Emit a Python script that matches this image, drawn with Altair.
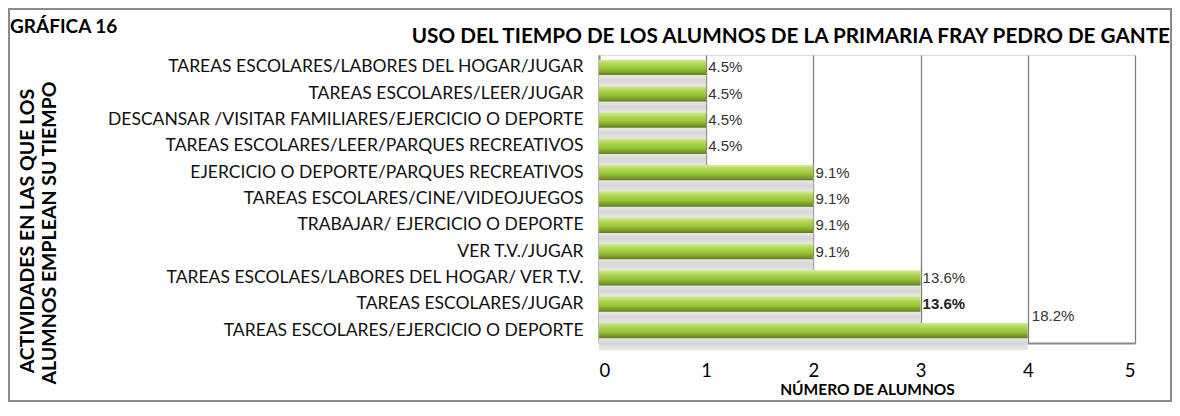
import altair as alt
import pandas as pd

categories = [
    "TAREAS ESCOLARES/LABORES DEL HOGAR/JUGAR",
    "TAREAS ESCOLARES/LEER/JUGAR",
    "DESCANSAR /VISITAR FAMILIARES/EJERCICIO O DEPORTE",
    "TAREAS ESCOLARES/LEER/PARQUES RECREATIVOS",
    "EJERCICIO O DEPORTE/PARQUES RECREATIVOS",
    "TAREAS ESCOLARES/CINE/VIDEOJUEGOS",
    "TRABAJAR/ EJERCICIO O DEPORTE",
    "VER T.V./JUGAR",
    "TAREAS ESCOLAES/LABORES DEL HOGAR/ VER T.V.",
    "TAREAS ESCOLARES/JUGAR",
    "TAREAS ESCOLARES/EJERCICIO O DEPORTE",
]
alumnos = [1, 1, 1, 1, 2, 2, 2, 2, 3, 3, 4]
porcentajes = ["4.5%", "4.5%", "4.5%", "4.5%", "9.1%", "9.1%", "9.1%", "9.1%",
               "13.6%", "13.6%", "18.2%"]
label_style = ["normal"] * 9 + ["bold", "raised"]

df = pd.DataFrame({
    "cat": categories,
    "n": alumnos,
    "pct": porcentajes,
    "style": label_style,
})

FONT = "Lato"
W, H = 536, 288

y_enc = alt.Y("cat:N", sort=categories,
              scale=alt.Scale(paddingInner=0.42, paddingOuter=0.185),
              axis=alt.Axis(title=None, labelFont=FONT, labelFontSize=17.5,
                            labelColor="#111", labelPadding=16, ticks=False,
                            domain=True, domainColor="#8a8a8a", domainWidth=2,
                            labelLimit=700))
x_enc = alt.X("n:Q", scale=alt.Scale(domain=[0, 5], nice=False),
              axis=alt.Axis(values=[0, 1, 2, 3, 4, 5], format="d",
                            title="NÚMERO DE ALUMNOS", titleFont=FONT,
                            titleFontSize=15.5, titleFontWeight="bold",
                            titleColor="#000", titlePadding=3,
                            labelFont=FONT, labelFontSize=18.5,
                            labelColor="#000", labelPadding=18, ticks=False,
                            grid=True, gridColor="#7f7f7f", gridWidth=1.3,
                            domain=True, domainColor="#8a8a8a", domainWidth=2))

base = alt.Chart(df)

shadow = base.mark_bar(
    yOffset=12,
    color=alt.Gradient(gradient="linear", x1=0, x2=0, y1=0, y2=1,
                       stops=[alt.GradientStop(color="#f4f4f4", offset=0),
                              alt.GradientStop(color="#d6d6d6", offset=0.55),
                              alt.GradientStop(color="#e8e8e8", offset=1)]),
).encode(x=x_enc, y=y_enc)

bars = base.mark_bar(
    color=alt.Gradient(gradient="linear", x1=0, x2=0, y1=0, y2=1,
                       stops=[alt.GradientStop(color="#d2eb96", offset=0),
                              alt.GradientStop(color="#b2d858", offset=0.25),
                              alt.GradientStop(color="#98c236", offset=0.6),
                              alt.GradientStop(color="#779a26", offset=0.85),
                              alt.GradientStop(color="#5d7b1b", offset=1)]),
).encode(x=x_enc, y=y_enc)

lab_enc = dict(x="n:Q", y=alt.Y("cat:N", sort=categories), text="pct:N")

labels = base.mark_text(
    align="left", baseline="middle", dx=2, font="Liberation Sans",
    fontSize=15, color="#333",
).encode(**lab_enc).transform_filter("datum.style == 'normal'")

labels_bold = base.mark_text(
    align="left", baseline="middle", dx=2, font="Liberation Sans",
    fontSize=15, fontWeight="bold", color="#222",
).encode(**lab_enc).transform_filter("datum.style == 'bold'")

labels_raised = base.mark_text(
    align="left", baseline="middle", dx=4, dy=-15, font="Liberation Sans",
    fontSize=15, color="#333",
).encode(**lab_enc).transform_filter("datum.style == 'raised'")

one = alt.Chart(pd.DataFrame({"k": [0]}))

title_main = one.mark_text(
    align="right", baseline="middle", font=FONT, fontSize=20.7,
    fontWeight="bold", color="#000",
).encode(x=alt.value(571), y=alt.value(-18),
         text=alt.value("USO DEL TIEMPO DE LOS ALUMNOS DE LA PRIMARIA FRAY PEDRO DE GANTE"))

title_num = one.mark_text(
    align="left", baseline="middle", font=FONT, fontSize=19,
    fontWeight="bold", color="#000",
).encode(x=alt.value(-589), y=alt.value(-28), text=alt.value("GRÁFICA 16"))

ytitle1 = one.mark_text(
    align="center", baseline="middle", angle=270, font=FONT, fontSize=19.5,
    fontWeight="bold", color="#000",
).encode(x=alt.value(-571), y=alt.value(176),
         text=alt.value("ACTIVIDADES EN LAS  QUE LOS"))

ytitle2 = one.mark_text(
    align="center", baseline="middle", angle=270, font=FONT, fontSize=19.5,
    fontWeight="bold", color="#000",
).encode(x=alt.value(-549), y=alt.value(178),
         text=alt.value("ALUMNOS EMPLEAN  SU  TIEMPO"))

border = one.mark_rect(filled=False, stroke="#8a8a8a", strokeWidth=2).encode(
    x=alt.value(-590), x2=alt.value(572), y=alt.value(-46), y2=alt.value(346))

chart = alt.layer(
    border, shadow, bars, labels, labels_bold, labels_raised,
    title_main, title_num, ytitle1, ytitle2,
).properties(
    width=W, height=H,
    autosize=alt.AutoSizeParams(type="none"),
    padding={"left": 591, "top": 47, "right": 37, "bottom": 59},
).configure_view(stroke=None).configure(background="white")

chart.save("out.html", embed_options={"renderer": "svg", "actions": False})
